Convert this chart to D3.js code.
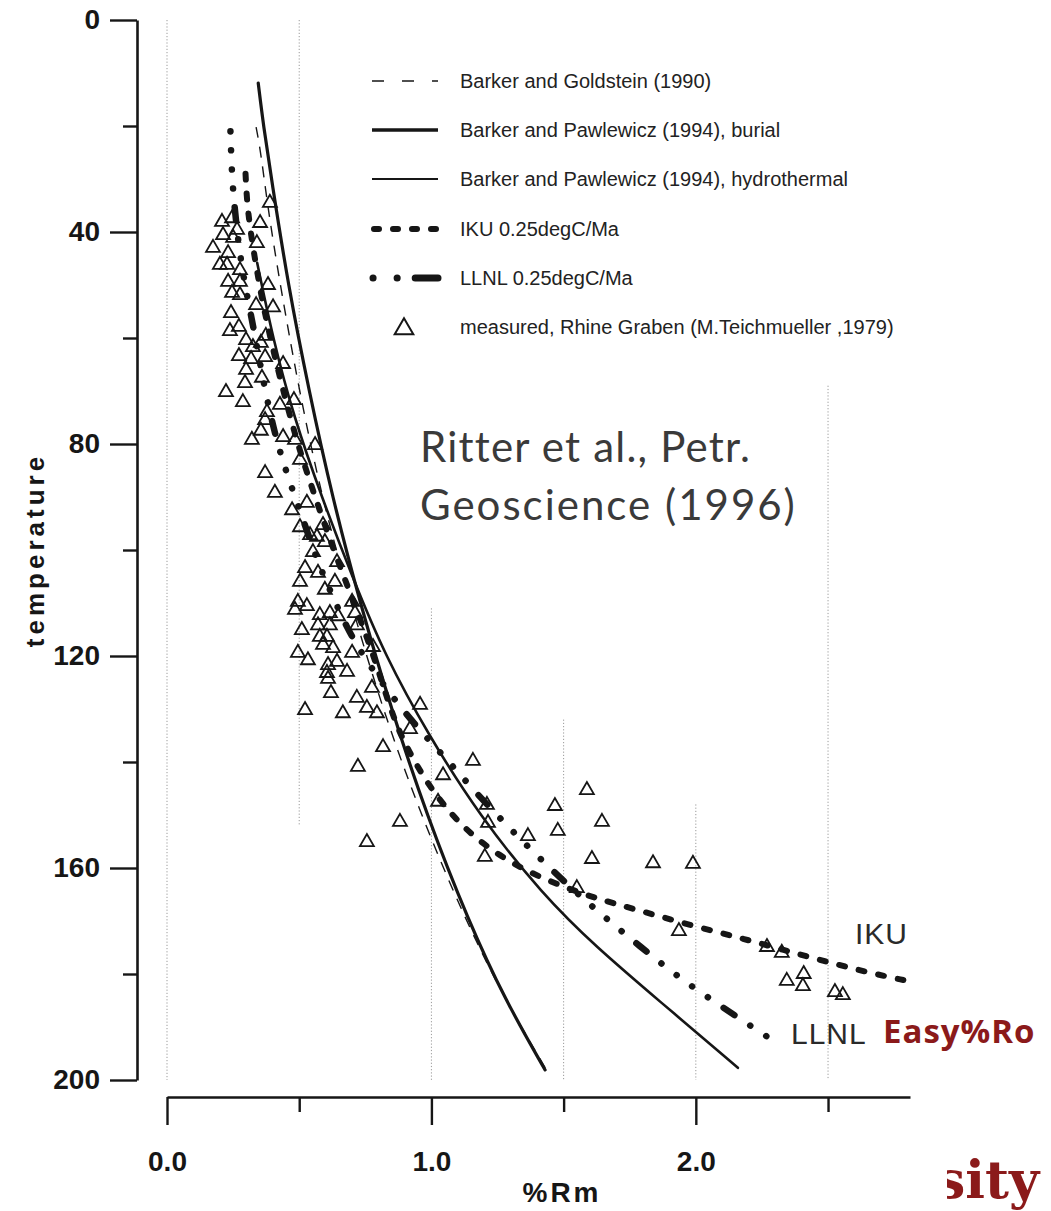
<!DOCTYPE html>
<html>
<head>
<meta charset="utf-8">
<script src="https://cdn.jsdelivr.net/npm/d3@7"></script>
<style>
  html, body { margin: 0; padding: 0; background: #fff; }
  svg { display: block; }
</style>
</head>
<body>
<div id="chart"></div>
<script>
// axis ticks
var tempTicks = [0, 40, 80, 120, 160, 200];
var tempMinor = [20, 60, 100, 140, 180];
var rmTicks = [0, 1, 2];
var rmMinor = [0.5, 1.5, 2.5];

// dotted guide lines: %Rm position, top and bottom temperature
var gridRm = [0, 0.5, 1.0, 1.5, 2.0, 2.5];
var gridTop = [0, 0, 111, 132, 148, 69];
var gridBottom = [200, 152, 200, 200, 200, 200];

// curves, [%Rm, temperature]
var barkerGoldstein = [[0.337,20.2],[0.355,25],[0.38,35],[0.428,50],[0.50,70],[0.585,90],[0.695,110],
  [0.815,130],[0.96,150],[1.13,170],[1.28,185],[1.44,198.5]];
var pawlewiczBurial = [[0.345,11.9],[0.365,20],[0.395,30],[0.458,50],[0.537,70],[0.625,90],[0.73,110],
  [0.848,130],[0.982,150],[1.14,170],[1.28,185],[1.43,198.1]];
var pawlewiczHydro = [[0.341,45.8],[0.40,60],[0.48,75],[0.585,90],[0.70,105],[0.825,120],[0.99,135],
  [1.18,150],[1.42,165],[1.625,175],[1.86,185],[2.159,197.7]];
var iku = [[0.297,29],[0.303,35],[0.322,42],[0.343,48],[0.36,53],[0.40,62],[0.45,72],[0.50,81],[0.56,90],
  [0.63,100],[0.70,109],[0.775,119],[0.82,126],[0.87,133.6],[0.935,139.9],[1.01,145.9],[1.105,151.6],
  [1.215,156.3],[1.34,160.1],[1.48,163.2],[1.62,165.7],[1.75,167.5],[1.98,170.8],[2.2,173.6],[2.42,176.7],
  [2.64,179.6],[2.80,181.3]];
var llnl = [[0.240,21],[0.243,26],[0.248,31],[0.257,36],[0.272,43],[0.295,50],[0.315,55],[0.338,61],
  [0.362,67.5],[0.395,75.5],[0.43,82],[0.47,88],[0.52,95],[0.568,102],[0.62,108],[0.68,114.7],[0.745,120.2],
  [0.84,127],[0.955,134],[1.06,139.6],[1.17,145.9],[1.29,152.2],[1.41,158.2],[1.55,164.8],[1.72,172],
  [1.93,180.5],[2.07,185.2],[2.21,189.9],[2.30,192.8]];

// measured, Rhine Graben
var measuredRm = [0.389,0.208,0.246,0.212,0.250,0.265,0.352,0.340,0.174,0.231,0.200,0.227,0.276,0.231,0.276,
  0.246,0.276,0.382,0.337,0.401,0.242,0.238,0.272,0.299,0.374,0.325,0.355,0.272,0.371,0.318,0.299,0.439,
  0.359,0.295,0.223,0.287,0.427,0.480,0.378,0.371,0.355,0.321,0.439,0.484,0.560,0.503,0.371,0.408,0.473,
  0.529,0.503,0.541,0.567,0.597,0.590,0.643,0.552,0.522,0.571,0.503,0.635,0.597,0.700,0.711,0.495,0.484,
  0.529,0.510,0.578,0.616,0.647,0.571,0.616,0.718,0.578,0.605,0.628,0.700,0.590,0.495,0.533,0.609,0.643,
  0.605,0.681,0.609,0.620,0.718,0.522,0.665,0.756,0.794,0.775,0.779,0.957,0.919,0.817,0.722,1.044,1.157,
  1.210,1.025,0.881,0.756,1.214,1.202,1.365,1.467,1.478,1.588,1.645,1.607,1.838,1.989,1.550,1.936,2.269,
  2.325,2.408,2.344,2.405,2.526,2.556];
var measuredT = [34.5,38.1,37.4,40.6,41.1,39.6,38.3,42.1,43.0,44.0,46.2,46.2,47.2,49.4,49.4,51.5,51.9,50.0,
  53.8,54.2,55.3,58.7,57.9,60.4,59.6,61.7,60.9,63.4,63.6,64.0,66.0,64.9,67.5,68.5,70.2,72.1,72.6,71.7,74.0,
  75.5,77.5,79.2,78.7,79.2,80.2,83.0,85.5,89.2,92.5,91.1,95.7,97.2,97.5,98.5,95.3,102.3,100.4,103.4,104.3,
  106.0,106.0,107.5,109.8,111.9,109.8,111.3,110.6,115.1,112.3,111.9,112.5,114.2,114.2,114.2,116.4,116.4,
  118.5,119.4,117.9,119.4,120.8,121.7,121.1,123.2,123.0,124.3,127.0,127.9,130.2,130.8,129.8,130.8,126.0,
  118.3,129.2,133.8,137.2,140.9,142.5,139.8,148.1,147.5,151.3,155.1,151.5,157.9,154.0,148.3,153.0,145.3,
  151.3,158.3,159.1,159.2,163.8,171.9,174.9,176.0,180.0,181.3,182.3,183.4,184.0];

var legendLabels = ["Barker and Goldstein (1990)", "Barker and Pawlewicz (1994), burial",
  "Barker and Pawlewicz (1994), hydrothermal", "IKU 0.25degC/Ma", "LLNL 0.25degC/Ma",
  "measured, Rhine Graben (M.Teichmueller ,1979)"];

var width = 1051, height = 1211;
var ink = "#161616";

var svg = d3.select("#chart").append("svg")
  .attr("width", width)
  .attr("height", height)
  .style("font-family", "'Liberation Sans', Arial, sans-serif");

var x = d3.scaleLinear().domain([0, 2.81]).range([167, 910]);
var y = d3.scaleLinear().domain([0, 200]).range([20, 1080]);

// dotted guides
svg.append("g").selectAll("line").data(gridRm).join("line")
  .attr("x1", (d) => x(d)).attr("x2", (d) => x(d))
  .attr("y1", (d, i) => y(gridTop[i])).attr("y2", (d, i) => y(gridBottom[i]))
  .attr("stroke", "#9a9a9a").attr("stroke-width", 1).attr("stroke-dasharray", "1.2 2");

// axes
svg.append("g").attr("transform", "translate(137,0)")
  .call(d3.axisLeft(y).tickValues(tempTicks).tickSize(27).tickSizeOuter(0).tickPadding(10));
svg.append("g").attr("transform", "translate(137,0)")
  .call(d3.axisLeft(y).tickValues(tempMinor).tickSize(14).tickSizeOuter(0).tickFormat(""))
  .select(".domain").remove();
svg.append("g").attr("transform", "translate(0,1097)")
  .call(d3.axisBottom(x).tickValues(rmTicks).tickSize(28).tickSizeOuter(0).tickPadding(26)
    .tickFormat(d3.format(".1f")));
svg.append("g").attr("transform", "translate(0,1097)")
  .call(d3.axisBottom(x).tickValues(rmMinor).tickSize(15).tickSizeOuter(0).tickFormat(""))
  .select(".domain").remove();

svg.selectAll(".domain").attr("stroke", ink).attr("stroke-width", 2.6);
svg.selectAll(".tick line").attr("stroke", ink).attr("stroke-width", 2.4);
svg.selectAll(".tick text")
  .attr("fill", ink)
  .style("font-size", "28px")
  .style("font-weight", "bold")
  .style("font-family", "'Liberation Sans', Arial, sans-serif");

svg.append("text")
  .attr("transform", "translate(44,550) rotate(-90)")
  .attr("text-anchor", "middle")
  .attr("fill", ink)
  .style("font-size", "26px").style("font-weight", "bold").style("letter-spacing", "4px")
  .text("temperature");
svg.append("text")
  .attr("x", 562).attr("y", 1202)
  .attr("text-anchor", "middle")
  .attr("fill", ink)
  .style("font-size", "28px").style("font-weight", "bold").style("letter-spacing", "3px")
  .text("%Rm");

// measured points
svg.append("g").selectAll("path").data(measuredRm).join("path")
  .attr("d", d3.symbol(d3.symbolTriangle, 84))
  .attr("transform", (d, i) => `translate(${x(d)},${y(measuredT[i])})`)
  .attr("fill", "none").attr("stroke", ink).attr("stroke-width", 1.8);

// curves
var line = d3.line().x((d) => x(d[0])).y((d) => y(d[1])).curve(d3.curveBasis);

var curves = [
  { data: barkerGoldstein, w: 1.4, dash: "11 9", cap: "butt" },
  { data: pawlewiczBurial, w: 3.2, dash: null, cap: "round" },
  { data: pawlewiczHydro, w: 2.6, dash: null, cap: "round" },
  { data: iku, w: 6, dash: "6 14", cap: "round" },
  { data: llnl, w: 6.5, dash: "0.1 19 0.1 19 0.1 19 0.1 19 13 19", cap: "round" },
];
svg.append("g").selectAll("path").data(curves).join("path")
  .attr("d", (d) => line(d.data))
  .attr("fill", "none")
  .attr("stroke", ink)
  .attr("stroke-width", (d) => d.w)
  .attr("stroke-linecap", (d) => d.cap)
  .attr("stroke-dasharray", (d) => d.dash);

// legend
var legendY = [81, 130, 179, 229, 278, 327];
var legendStyle = [
  { w: 1.4, dash: "12 18", cap: "butt", x1: 372 },
  { w: 3.4, dash: null, cap: "butt", x1: 372 },
  { w: 1.8, dash: null, cap: "butt", x1: 372 },
  { w: 6, dash: "5 14", cap: "round", x1: 374 },
  { w: 7, dash: "0.1 24 0.1 18 23 100", cap: "round", x1: 373 },
];
var legend = svg.append("g");
legend.selectAll("line").data(legendStyle).join("line")
  .attr("x1", (d) => d.x1).attr("x2", 438)
  .attr("y1", (d, i) => legendY[i]).attr("y2", (d, i) => legendY[i])
  .attr("stroke", ink)
  .attr("stroke-width", (d) => d.w)
  .attr("stroke-linecap", (d) => d.cap)
  .attr("stroke-dasharray", (d) => d.dash);
legend.append("path")
  .attr("d", d3.symbol(d3.symbolTriangle, 150))
  .attr("transform", `translate(404,${legendY[5] + 2})`)
  .attr("fill", "none").attr("stroke", ink).attr("stroke-width", 2);
legend.selectAll("text").data(legendLabels).join("text")
  .attr("x", 460).attr("y", (d, i) => legendY[i] + 7)
  .attr("fill", "#222")
  .style("font-size", "20px")
  .text((d) => d);

// curve labels
svg.append("text").attr("x", 855).attr("y", 944).attr("fill", "#2a2a2a")
  .style("font-size", "30px").style("letter-spacing", "1px").text("IKU");
svg.append("text").attr("x", 791).attr("y", 1044).attr("fill", "#2a2a2a")
  .style("font-size", "30px").style("letter-spacing", "1px").text("LLNL");
svg.append("text").attr("x", 883).attr("y", 1043).attr("fill", "#8b1a1a")
  .style("font-family", "'Open Sans', sans-serif")
  .style("font-size", "33px").style("font-weight", "bold").style("letter-spacing", "1px")
  .text("Easy%Ro");

// citation
var cite = svg.append("text").attr("fill", "#3a3a3a")
  .style("font-family", "Lato, sans-serif").style("font-size", "42px");
cite.append("tspan").attr("x", 420).attr("y", 462).style("letter-spacing", "1.2px").text("Ritter et al., Petr.");
cite.append("tspan").attr("x", 420).attr("y", 520).style("letter-spacing", "2px").text("Geoscience (1996)");

// cut-off footer word
svg.append("clipPath").attr("id", "footclip")
  .append("rect").attr("x", 947).attr("y", 1140).attr("width", 110).attr("height", 80);
svg.append("text").attr("x", 936).attr("y", 1198)
  .attr("clip-path", "url(#footclip)")
  .attr("fill", "#8b1a1a")
  .style("font-family", "'DejaVu Serif', serif")
  .style("font-size", "52px").style("font-weight", "bold")
  .text("sity");
</script>
</body>
</html>
